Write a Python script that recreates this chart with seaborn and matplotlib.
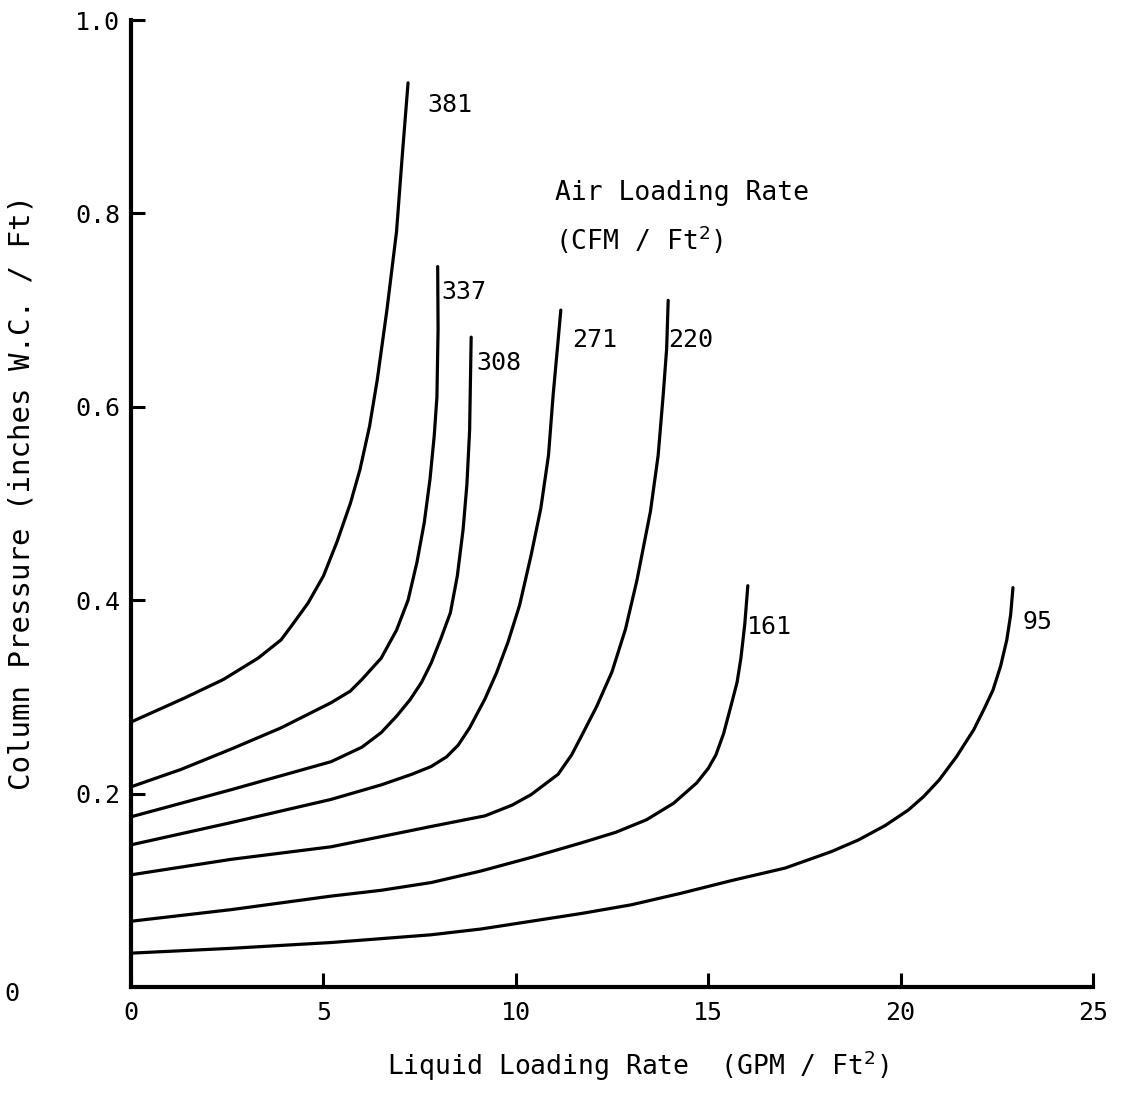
import numpy as np
import pandas as pd
import matplotlib
matplotlib.use("Agg")
import matplotlib.pyplot as plt
import seaborn as sns

# Air loading rates (CFM / Ft^2) and the pressure-drop curves for each
air_rates = ["381", "337", "308", "271", "220", "161", "95"]

x_381 = [0, 1.4, 2.4, 3.3, 3.9, 4.2, 4.6, 5.0, 5.35, 5.7, 5.95, 6.2, 6.4, 6.65, 6.9, 7.05, 7.2]
y_381 = [0.274, 0.299, 0.318, 0.340, 0.359, 0.375, 0.397, 0.425, 0.460, 0.500, 0.535, 0.580,
         0.628, 0.700, 0.781, 0.860, 0.935]

x_337 = [0, 1.3, 2.6, 3.9, 5.2, 5.7, 6.0, 6.5, 6.9, 7.2, 7.43, 7.62, 7.77, 7.88, 7.95, 7.98, 7.97]
y_337 = [0.207, 0.225, 0.246, 0.268, 0.294, 0.306, 0.318, 0.340, 0.369, 0.400, 0.439, 0.480,
         0.525, 0.570, 0.610, 0.680, 0.745]

x_308 = [0, 2.6, 5.2, 6.0, 6.5, 6.9, 7.25, 7.55, 7.8, 8.05, 8.3, 8.48, 8.63, 8.73, 8.8, 8.84]
y_308 = [0.176, 0.204, 0.233, 0.248, 0.263, 0.280, 0.297, 0.315, 0.335, 0.360, 0.387, 0.425,
         0.473, 0.520, 0.576, 0.672]

x_271 = [0, 2.6, 5.2, 6.5, 7.3, 7.8, 8.2, 8.5, 8.8, 9.2, 9.5, 9.8, 10.1, 10.4, 10.65, 10.85,
         10.97, 11.08, 11.17]
y_271 = [0.147, 0.170, 0.194, 0.209, 0.220, 0.228, 0.238, 0.250, 0.268, 0.298, 0.325, 0.357,
         0.395, 0.447, 0.495, 0.550, 0.612, 0.660, 0.700]

x_220 = [0, 2.6, 5.2, 7.8, 9.2, 9.9, 10.4, 11.1, 11.45, 11.7, 12.1, 12.5, 12.85, 13.15, 13.5,
         13.7, 13.83, 13.92, 13.96]
y_220 = [0.116, 0.132, 0.145, 0.166, 0.177, 0.188, 0.199, 0.220, 0.240, 0.259, 0.290, 0.326,
         0.370, 0.421, 0.492, 0.550, 0.612, 0.660, 0.710]

x_161 = [0, 2.6, 5.2, 6.5, 7.8, 9.1, 10.4, 11.7, 12.6, 13.4, 14.1, 14.7, 15.0, 15.2, 15.4,
         15.6, 15.75, 15.85, 15.95, 16.03]
y_161 = [0.068, 0.080, 0.094, 0.100, 0.108, 0.120, 0.134, 0.149, 0.160, 0.173, 0.190, 0.211,
         0.226, 0.240, 0.262, 0.292, 0.315, 0.340, 0.375, 0.415]

x_95 = [0, 2.6, 5.2, 7.8, 9.1, 10.4, 11.7, 13.0, 14.3, 15.6, 17.0, 18.2, 18.9, 19.6, 20.2,
        20.6, 21.0, 21.45, 21.9, 22.2, 22.4, 22.6, 22.76, 22.86, 22.92]
y_95 = [0.035, 0.040, 0.046, 0.054, 0.060, 0.068, 0.076, 0.085, 0.097, 0.110, 0.123, 0.140,
        0.152, 0.167, 0.183, 0.197, 0.214, 0.238, 0.266, 0.290, 0.307, 0.332, 0.359, 0.385,
        0.413]

# Curve label anchors (left edge, vertical centre) in data units
label_x = [7.69, 8.06, 8.97, 11.46, 13.96, 16.0, 23.18]
label_y = [0.912, 0.719, 0.645, 0.669, 0.669, 0.372, 0.377]

x_ticks = [0, 5, 10, 15, 20, 25]
y_ticks = [0.2, 0.4, 0.6, 0.8, 1.0]

xs = [x_381, x_337, x_308, x_271, x_220, x_161, x_95]
ys = [y_381, y_337, y_308, y_271, y_220, y_161, y_95]

rows = []
for name, xv, yv in zip(air_rates, xs, ys):
    for i, (a, b) in enumerate(zip(xv, yv)):
        rows.append({"air": name, "order": i, "liquid": a, "pressure": b})
df = pd.DataFrame(rows)

sns.set_style("ticks")
plt.rcParams["font.family"] = ["DejaVu Sans Mono"]
plt.rcParams["text.color"] = "black"
plt.rcParams["axes.labelcolor"] = "black"
plt.rcParams["xtick.color"] = "black"
plt.rcParams["ytick.color"] = "black"

fig = plt.figure(figsize=(11.26, 10.93), dpi=100)
ax = fig.add_axes([131 / 1126, 1 - 987 / 1093, (1093 - 131) / 1126, (987 - 20) / 1093])

sns.lineplot(data=df, x="liquid", y="pressure", hue="air", units="air",
             estimator=None, sort=False, palette={n: "black" for n in air_rates},
             linewidth=2.3, legend=False, ax=ax)
for line in ax.get_lines():
    line.set_solid_joinstyle("round")
    line.set_solid_capstyle("round")

ax.set_xlim(0, 25)
ax.set_ylim(0, 1.0)
for side in ["top", "right"]:
    ax.spines[side].set_visible(False)
for side in ["left", "bottom"]:
    ax.spines[side].set_linewidth(3.0)
    ax.spines[side].set_color("black")

ax.set_xticks(x_ticks)
ax.set_xticklabels([str(t) for t in x_ticks])
ax.set_yticks(y_ticks)
ax.set_yticklabels([f"{t:.1f}" for t in y_ticks])
ax.tick_params(axis="both", direction="in", length=10, width=2.2, colors="black",
               labelsize=18)
ax.tick_params(axis="x", pad=10)
ax.tick_params(axis="y", pad=8)
ax.text(-0.124, -0.007, "0", transform=ax.transAxes, fontsize=18, ha="center", va="center")

for name, lx, ly in zip(air_rates, label_x, label_y):
    ax.text(lx, ly, name, fontsize=18, ha="left", va="center")

ax.text(11.02, 0.821, "Air Loading Rate", fontsize=19, ha="left", va="center")
ax.text(11.02, 0.773, r"(CFM / Ft$^{2}$)", fontsize=19, ha="left", va="center")

ax.set_xlabel(r"Liquid Loading Rate  (GPM / Ft$^{2}$)", fontsize=19, va="center")
ax.set_ylabel("Column Pressure (inches W.C. / Ft)", fontsize=21, va="center")
ax.xaxis.set_label_coords((638 - 131) / 962, -(1066 - 987) / 967)
ax.yaxis.set_label_coords(-(131 - 22) / 962, (987 - 493) / 967)

fig.savefig("out.png", dpi=100, facecolor="white")
